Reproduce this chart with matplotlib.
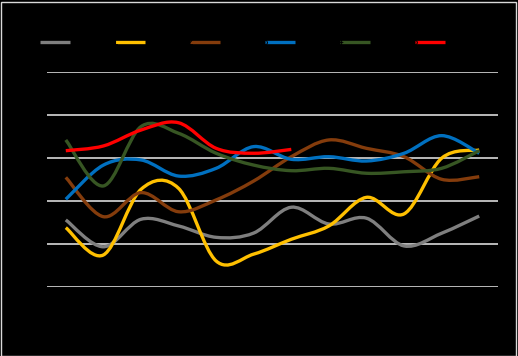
import matplotlib
matplotlib.use("Agg")
import matplotlib.pyplot as plt
from matplotlib.path import Path
from matplotlib.patches import PathPatch, Rectangle
from matplotlib.lines import Line2D

categories = ["Jan", "Feb", "Mar", "Apr", "May", "Jun", "Jul", "Aug", "Sep", "Oct", "Nov", "Dec"]
series_names = ["Series 1", "Series 2", "Series 3", "Series 4", "Series 5", "Series 6"]
gray_vals = [31.2, 18.7, 31.5, 28.4, 23.1, 25.1, 37.1, 29.3, 32.0, 19.1, 25.0, 33.0]
yellow_vals = [27.6, 14.9, 45.4, 45.9, 12.1, 15.3, 22.2, 28.4, 41.7, 34.0, 59.9, 63.7]
brown_vals = [51.0, 32.7, 43.9, 35.0, 40.5, 49.3, 60.6, 68.4, 64.5, 60.6, 50.1, 51.3]
blue_vals = [40.8, 56.7, 59.1, 51.6, 55.2, 65.3, 59.4, 60.6, 58.6, 62.2, 70.4, 62.2]
green_vals = [68.4, 47.0, 74.6, 71.5, 62.2, 56.7, 54.1, 55.2, 52.9, 53.6, 55.2, 63.4]
red_vals = [63.4, 65.6, 73.0, 76.4, 64.5, 62.2, 64.0]
y_ticks = [0, 20, 40, 60, 80, 100]

colors = ["#7f7f7f", "#ffc000", "#843c0c", "#0070c0", "#375623", "#ff0000"]
all_series = [gray_vals, yellow_vals, brown_vals, blue_vals, green_vals, red_vals]

W, H = 518, 356
fig = plt.figure(figsize=(W / 100, H / 100), dpi=100)
fig.patch.set_facecolor("black")
fig.add_artist(Rectangle((0.5 / W, 0.5 / H), 1 - 2.5 / W, 1 - 2.5 / H, transform=fig.transFigure,
                         fill=False, edgecolor="#d9d9d9", linewidth=1.0))

left, right, top, bottom = 47, 498, 72, 287
ax = fig.add_axes([left / W, (H - bottom) / H, (right - left) / W, (bottom - top) / H])
ax.set_facecolor("black")
ax.set_xlim(-0.5, len(categories) - 0.5)
ax.set_ylim(y_ticks[0], y_ticks[-1])
for s in ax.spines.values():
    s.set_visible(False)
ax.set_yticks(y_ticks)
ax.set_xticks(range(len(categories)))
ax.set_xticklabels(categories, color="black", fontsize=8)
ax.set_yticklabels([str(t) for t in y_ticks], color="black", fontsize=8)
ax.tick_params(length=0)
ax.yaxis.grid(True, color="#d9d9d9", linewidth=1.2)
ax.set_axisbelow(True)


def smooth_path(xs, ys):
    # Excel-style smoothed line: cubic Bezier through each point
    pts = list(zip(xs, ys))
    n = len(pts)
    verts = [pts[0]]
    codes = [Path.MOVETO]
    for i in range(n - 1):
        p0 = pts[i - 1] if i > 0 else pts[i]
        p1 = pts[i]
        p2 = pts[i + 1]
        p3 = pts[i + 2] if i + 2 < n else pts[i + 1]
        c1 = (p1[0] + (p2[0] - p0[0]) / 6, p1[1] + (p2[1] - p0[1]) / 6)
        c2 = (p2[0] - (p3[0] - p1[0]) / 6, p2[1] - (p3[1] - p1[1]) / 6)
        verts += [c1, c2, p2]
        codes += [Path.CURVE4] * 3
    return Path(verts, codes)


for vals, c in zip(all_series, colors):
    xs = list(range(len(vals)))
    ax.add_patch(PathPatch(smooth_path(xs, vals), facecolor="none", edgecolor=c,
                           linewidth=2.4, capstyle="butt", joinstyle="round"))

# legend across the top
lx0 = 40
for i, (name, c) in enumerate(zip(series_names, colors)):
    x0 = lx0 + 75 * i
    fig.add_artist(Line2D([x0 / W, (x0 + 30) / W], [(H - 42) / H] * 2, color=c, linewidth=2.4,
                          transform=fig.transFigure, solid_capstyle="butt"))
    fig.text((x0 + 34) / W, (H - 42) / H, name, color="black", fontsize=8, va="center")

fig.savefig("out.png", dpi=100, facecolor="black")
